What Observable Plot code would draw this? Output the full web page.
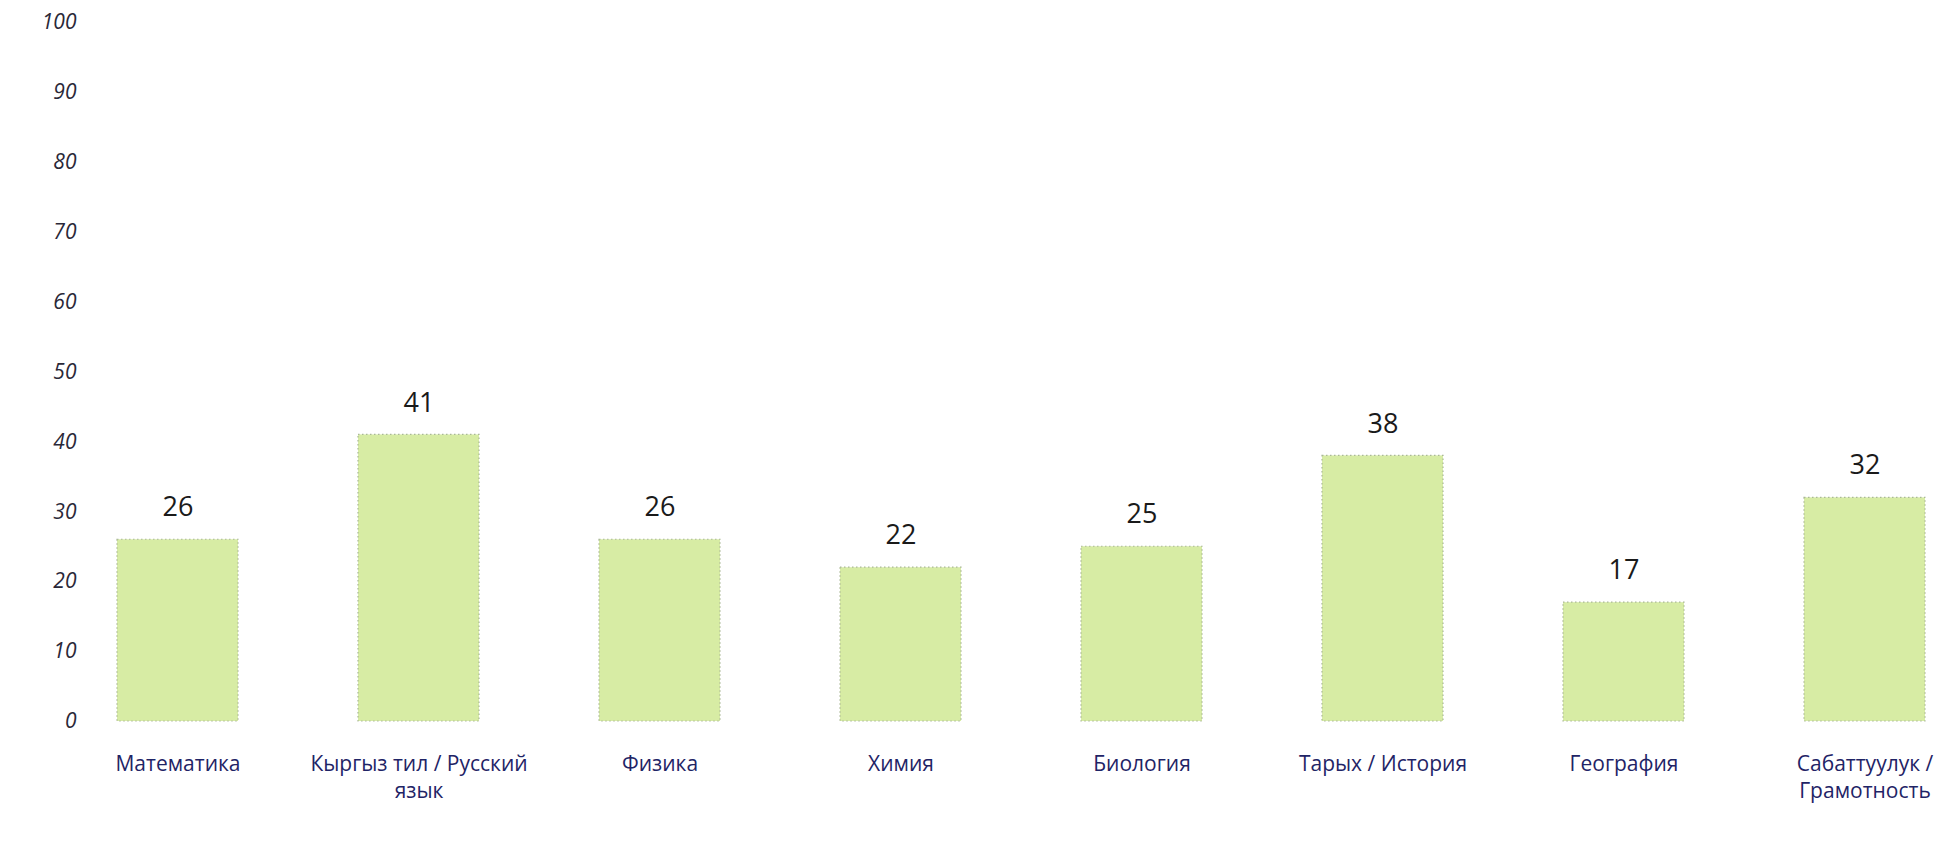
<!DOCTYPE html>
<html>
<head>
<meta charset="utf-8">
<script src="https://cdn.jsdelivr.net/npm/d3@7"></script>
<script src="https://cdn.jsdelivr.net/npm/@observablehq/plot@0.6"></script>
<style>
  html, body { margin: 0; padding: 0; background: #ffffff; }
  #chart { width: 1948px; height: 866px; }
  svg { font-family: "Open Sans", "Noto Sans", sans-serif; }
</style>
</head>
<body>
<div id="chart"></div>
<script>
const categories = [
  "Математика",
  "Кыргыз тил / Русский язык",
  "Физика",
  "Химия",
  "Биология",
  "Тарых / История",
  "География",
  "Сабаттуулук / Грамотность"
];
const categoryLabels = [
  "Математика",
  "Кыргыз тил / Русский\nязык",
  "Физика",
  "Химия",
  "Биология",
  "Тарых / История",
  "География",
  "Сабаттуулук /\nГрамотность"
];
const values = [26, 41, 26, 22, 25, 38, 17, 32];
const yTicks = [0, 10, 20, 30, 40, 50, 60, 70, 80, 90, 100];

const data = categories.map((c, i) => ({category: c, value: values[i]}));
const labelOf = new Map(categories.map((c, i) => [c, categoryLabels[i]]));

const chart = Plot.plot({
  width: 1948,
  height: 866,
  marginTop: 22,
  marginBottom: 145,
  marginLeft: 54,
  marginRight: 0,
  style: {background: "#ffffff", fontFamily: "'Open Sans', 'Noto Sans', sans-serif"},
  x: {domain: categories, range: [54, 1987], paddingInner: 0.5, paddingOuter: 0.25, label: null},
  y: {domain: [0, 100], label: null},
  marks: [
    Plot.axisY({
      ticks: yTicks,
      tickSize: 0,
      tickPadding: 0,
      dx: 22,
      fontSize: 21,
      fontStyle: "italic",
      fill: "#2a2838",
      label: null
    }),
    Plot.axisX({
      tickSize: 0,
      tickPadding: 30,
      fontSize: 21,
      fill: "#1f2466",
      lineHeight: 1.3,
      tickFormat: d => labelOf.get(d),
      label: null
    }),
    Plot.barY(data, {
      x: "category",
      y: "value",
      fill: "#d7eca4",
      stroke: "#aab896",
      strokeWidth: 1.2,
      strokeDasharray: "1.5,2.5"
    }),
    Plot.text(data, {
      x: "category",
      y: "value",
      text: d => String(d.value),
      dy: -32,
      fontSize: 27,
      fill: "#1a1a1a"
    })
  ]
});
document.getElementById("chart").appendChild(chart);
</script>
</body>
</html>
